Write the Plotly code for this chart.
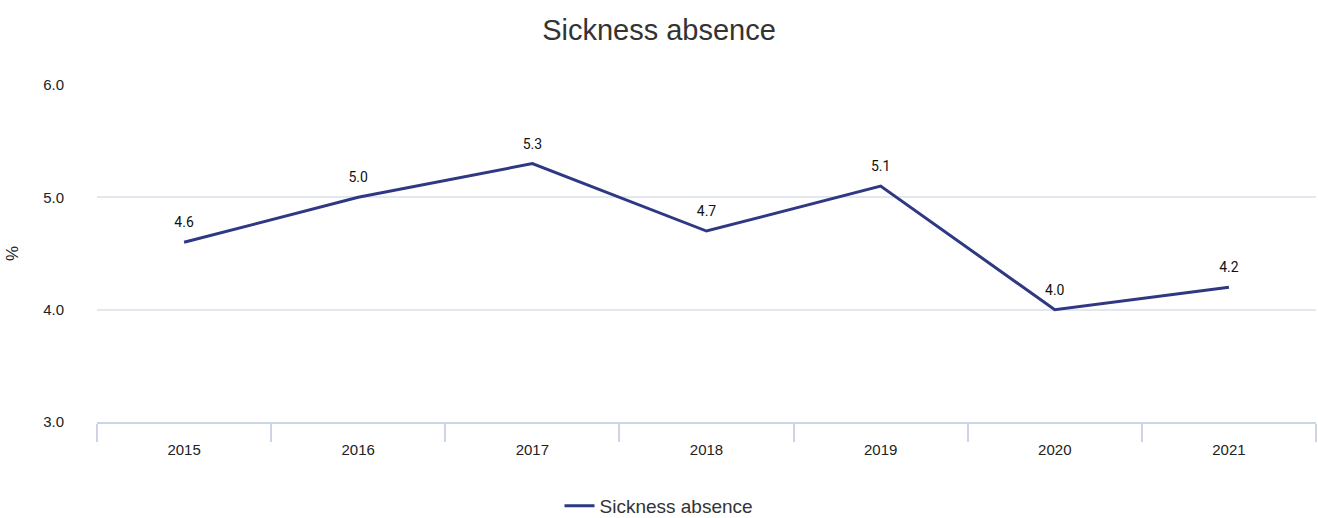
import plotly.graph_objects as go

# Sickness absence rate by year (%)
years = ["2015", "2016", "2017", "2018", "2019", "2020", "2021"]
absence_pct = [4.6, 5.0, 5.3, 4.7, 5.1, 4.0, 4.2]
series_name = "Sickness absence"

LINE_COLOR = "#2e3883"
GRID_COLOR = "#e3e8ef"
AXIS_COLOR = "#cbd5e5"

fig = go.Figure()
fig.add_trace(go.Scatter(
    x=years,
    y=absence_pct,
    name=series_name,
    mode="lines+markers+text",
    line=dict(color=LINE_COLOR, width=3),
    # invisible markers only serve to lift the value labels off the line
    marker=dict(size=17, color="rgba(0,0,0,0)"),
    text=[f"{v:.1f}" for v in absence_pct],
    textposition="top center",
    textfont=dict(family="Roboto, Arial, sans-serif", size=14, color="#111111"),
    cliponaxis=False,
    showlegend=True,
))

fig.update_layout(
    width=1318,
    height=518,
    margin=dict(l=97, r=2, t=85, b=96),
    paper_bgcolor="white",
    plot_bgcolor="white",
    title=dict(
        text="Sickness absence",
        x=0.5, xref="container", xanchor="center",
        y=1 - 30 / 518, yref="container", yanchor="middle",
        font=dict(family="Liberation Sans, Arial, sans-serif", size=29, color="#333333"),
    ),
    legend=dict(
        orientation="h",
        x=0.5, xref="container", xanchor="center",
        y=12 / 518, yref="container", yanchor="middle",
        font=dict(family="Liberation Sans, Arial, sans-serif", size=19, color="#333333"),
        itemwidth=30,
    ),
    xaxis=dict(
        type="category",
        tickson="boundaries",
        ticks="outside",
        ticklen=18,
        tickwidth=1.5,
        tickcolor=AXIS_COLOR,
        showline=True,
        linecolor=AXIS_COLOR,
        linewidth=1.5,
        showgrid=False,
        ticklabelstandoff=13,
        tickfont=dict(family="Liberation Sans, Arial, sans-serif", size=15, color="#222222"),
        range=[-0.5, len(years) - 0.5],
    ),
    yaxis=dict(
        range=[3, 6],
        dtick=1,
        tickformat=".1f",
        showgrid=True,
        gridcolor=GRID_COLOR,
        gridwidth=1.5,
        zeroline=False,
        showline=False,
        ticks="",
        ticklabelstandoff=32,
        tickfont=dict(family="Liberation Sans, Arial, sans-serif", size=15, color="#222222"),
        title=dict(text="%", standoff=20,
                   font=dict(family="Liberation Sans, Arial, sans-serif", size=17, color="#222222")),
    ),
)

fig.write_html("out.html")
